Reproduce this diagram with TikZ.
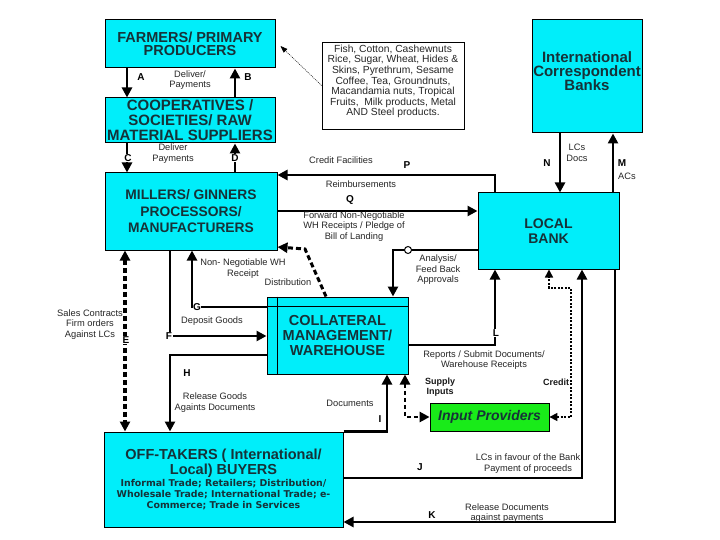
\documentclass[tikz,border=0pt]{standalone}
\usepackage{fontspec}
\setmainfont{Liberation Sans}
\newfontfamily\subfont{DejaVu Sans}
\newcommand{\subtxtfont}{\subfont\bfseries\fontsize{9.4}{11.5}\selectfont}
\usetikzlibrary{arrows.meta,calc}
\definecolor{boxcyan}{RGB}{0,238,250}
\definecolor{boxtext}{RGB}{22,50,56}
\definecolor{inpgreen}{RGB}{25,235,25}
\begin{document}
\begin{tikzpicture}[x=1pt,y=-1pt,
  box/.style={draw=black, line width=1pt, fill=boxcyan, inner sep=0pt, align=center, text=boxtext, font=\bfseries\fontsize{14}{15}\selectfont},
  lbl/.style={font=\fontsize{9.3}{10.5}\selectfont, align=center, text=black!85, inner sep=0pt},
  blbl/.style={font=\bfseries\fontsize{9}{10.5}\selectfont, align=center, text=black!90, inner sep=0pt},
  letter/.style={font=\bfseries\fontsize{10}{12}\selectfont, inner sep=0.6pt},
  wletter/.style={letter, fill=white},
  conn/.style={line width=2.6pt},
  arr/.style={conn, -{Triangle[length=10pt,width=10pt]}},
  dasharr/.style={line width=3pt, dash pattern=on 5pt off 3pt, -{Triangle[length=10pt,width=10pt]}},
  dashboth/.style={line width=3.2pt, dash pattern=on 5pt off 3pt, {Triangle[length=10pt,width=10pt]}-{Triangle[length=10pt,width=10pt]}},
  dotboth/.style={line width=1.4pt, dash pattern=on 2pt off 1.5pt, {Triangle[length=8pt,width=8pt]}-{Triangle[length=8pt,width=8pt]}},
  thindot/.style={line width=0.5pt, dash pattern=on 1pt off 1pt, -{Triangle[length=7pt,width=5pt]}}
]
\fill[white] (0,0) rectangle (720,540);
\useasboundingbox (0,0) rectangle (720,540);

% ---- boxes ----
\node[box, minimum width=170pt, minimum height=48pt, font=\bfseries\fontsize{14.5}{13.5}\selectfont] (farm) at (190,44) {FARMERS/ PRIMARY\\PRODUCERS};
\node[box, minimum width=170pt, minimum height=45pt, font=\bfseries\fontsize{15}{15}\selectfont] (coop) at (190,120.5) {COOPERATIVES /\\SOCIETIES/ RAW\\MATERIAL SUPPLIERS};
\node[box, minimum width=172pt, minimum height=77pt, font=\bfseries\fontsize{13.8}{16.5}\selectfont] (mill) at (191,211.5) {MILLERS/ GINNERS\\PROCESSORS/\\MANUFACTURERS};
\node[draw=black, line width=0.8pt, minimum width=142pt, minimum height=87pt, inner sep=0pt] (txt) at (393,85.5) {};
\node[align=center, inner sep=0pt, font=\fontsize{10.3}{10.6}\selectfont, text=black!85] (txtT) at (393,81.5)
  {Fish, Cotton, Cashewnuts\\Rice, Sugar, Wheat, Hides \&\\Skins, Pyrethrum, Sesame\\Coffee, Tea, Groundnuts,\\Macandamia nuts, Tropical\\Fruits,~ Milk products, Metal\\AND Steel products.};
\node[box, minimum width=110pt, minimum height=113pt] (intl) at (587,76.5) {};
\node[align=center, inner sep=0pt, text=boxtext, font=\bfseries\fontsize{15}{14}\selectfont] (intlT) at (587,71) {International\\Correspondent\\Banks};
\node[box, minimum width=141pt, minimum height=76pt] (bank) at (548.5,231) {LOCAL\\BANK};
\node[box, minimum width=141pt, minimum height=77pt, font=\bfseries\fontsize{14.5}{15}\selectfont] (coll) at (337.5,335.5) {COLLATERAL\\MANAGEMENT/\\WAREHOUSE};
\draw[line width=1pt] ($(coll.north west)+(11,0)$) -- ($(coll.south west)+(11,0)$);
\draw[line width=1pt] ($(coll.north west)+(0,10)$) -- ($(coll.north east)+(0,10)$);
\node[draw=black, line width=0.8pt, fill=inpgreen, minimum width=119pt, minimum height=28pt, inner sep=0pt, font=\bfseries\itshape\fontsize{14}{15}\selectfont, text=boxtext] (inp) at (489.5,417) {Input Providers};
\node[box, minimum width=239pt, minimum height=95pt, font=\bfseries\fontsize{14.5}{15}\selectfont] (off) at (223.5,479.5)
  {OFF-TAKERS ( International/\\Local) BUYERS\\[-2.5pt]
   {\subtxtfont Informal Trade; Retailers; Distribution/}\\[-4pt]
   {\subtxtfont Wholesale Trade; International Trade; e-}\\[-4pt]
   {\subtxtfont Commerce; Trade in Services}};

% ---- reference coordinates ----
\coordinate (xA) at (127,0);
\coordinate (xB) at (235,0);
\coordinate (xE) at (125,0);
\coordinate (xF) at (170,0);
\coordinate (xG) at (192,0);
\coordinate (xO) at (393,0);
\coordinate (xI) at (387,0);
\coordinate (xP) at (495,0);
\coordinate (xDb) at (549,0);
\coordinate (xDr) at (571,0);
\coordinate (xJ) at (582,0);
\coordinate (xN) at (560,0);
\coordinate (xM) at (613,0);
\coordinate (xK) at (615,0);
\coordinate (xDist) at (326,0);
\coordinate (xCI) at (405,0);
\coordinate (yP) at (0,175);
\coordinate (yQ) at (0,211);
\coordinate (yO) at (0,250);
\coordinate (yDist) at (0,247);
\coordinate (yG) at (0,307);
\coordinate (yF) at (0,336);
\coordinate (yL) at (0,345);
\coordinate (yH) at (0,355);
\coordinate (yIn) at (0,417);
\coordinate (yDb) at (0,288);
\coordinate (yJ) at (0,478);
\coordinate (yK) at (0,522);
\coordinate (distBend) at (305,249);

% ---- connectors ----
\draw[arr] (xA |- farm.south) -- (xA |- coop.north);
\draw[arr] (xB |- coop.north) -- (xB |- farm.south);
\draw[arr] (xA |- coop.south) -- (xA |- mill.north);
\draw[arr] (xB |- mill.north) -- (xB |- coop.south);
\draw[arr] (xP |- bank.north) |- (yP -| mill.east);
\draw[arr] (yQ -| mill.east) -- (yQ -| bank.west);
\draw[arr] (yO -| bank.west) -| (xO |- coll.north);
\draw[arr] (yL -| coll.east) -| (xP |- bank.south);
\draw[dotboth] (yIn -| inp.east) -| (xDr |- yDb) -| (xDb |- bank.south);
\draw[arr] (yJ -| off.east) -| (xJ |- bank.south);
\draw[arr] (xK |- bank.south) |- (yK -| off.east);
\draw[arr] (xM |- bank.north) -- (xM |- intl.south);
\draw[arr] (xN |- intl.south) -- (xN |- bank.north);
\draw[arr] (off.north east) -| (xI |- coll.south);
\draw[arr] (yH -| coll.west) -| (xF |- off.north);
\draw[arr] (xF |- mill.south) |- (yF -| coll.west);
\draw[arr] (yG -| coll.west) -| (xG |- mill.south);
\draw[dashboth] (xE |- mill.south) -- (xE |- off.north);
\draw[dasharr] (xDist |- coll.north) -- (distBend) -- (yDist -| mill.east);
\draw[dashboth, line width=2.6pt, dash pattern=on 4pt off 3pt] (xCI |- coll.south) |- (yIn -| inp.west);
\draw[thindot] ($(txt.west)+(0,0)$) -- ($(farm.east)+(5,2)$);

% ---- labels ----
\node[lbl] (l1) at (190,80) {Deliver/\\Payments};
\node[letter] (lA) at (141,77) {A};
\node[letter] (lB) at (248,77) {B};
\node[lbl] (l2) at (173,153.5) {Deliver\\Payments};
\node[wletter] (lC) at (128,158) {C};
\node[wletter] (lD) at (235,158) {D};
\node[lbl] (l3) at (341,160) {Credit Facilities};
\node[letter] (lP) at (407,165) {P};
\node[lbl] (l4) at (361,184) {Reimbursements};
\node[letter] (lQ) at (350,200) {Q};
\node[lbl] (l5) at (354,226.5) {Forward Non-Negotiable\\WH Receipts / Pledge of\\Bill of Landing};
\node[draw=black, fill=white, circle, line width=1pt, minimum size=7pt, inner sep=0pt] (lO) at (408,250) {};
\node[lbl] (l6) at (438,270) {Analysis/\\Feed Back\\Approvals};
\node[letter] (lN) at (547,163) {N};
\node[lbl] (l7) at (577,153) {LCs\\Docs};
\node[letter] (lM) at (622,163) {M};
\node[lbl] (l8) at (627,176) {ACs};
\node[lbl] (l9) at (243,268.5) {Non- Negotiable WH\\Receipt};
\node[lbl] (l10) at (288,282) {Distribution};
\node[wletter] (lG) at (197,307) {G};
\node[lbl] (l11) at (212,321) {Deposit Goods};
\node[lbl] (l12) at (90,324.5) {Sales Contracts\\Firm orders\\Against LCs};
\node[wletter] (lE) at (126,340) {E};
\node[wletter] (lF) at (169,336) {F};
\node[letter] (lH) at (187,373) {H};
\node[lbl] (l13) at (215,402.5) {Release Goods\\Againts Documents};
\node[wletter] (lL) at (496,333) {L};
\node[lbl] (l14) at (484,360) {Reports / Submit Documents/\\Warehouse Receipts};
\node[blbl] (l15) at (440,387) {Supply\\Inputs};
\node[blbl] (l16) at (556,382) {Credit};
\node[lbl] (l17) at (350,403) {Documents};
\node[letter] (lI) at (380,419) {I};
\node[letter] (lJ) at (420,467) {J};
\node[lbl] (l18) at (528,463.5) {LCs in favour of the Bank\\Payment of proceeds};
\node[letter] (lK) at (432,515) {K};
\node[lbl] (l19) at (507,513) {Release Documents\\against payments};
\end{tikzpicture}
\end{document}
